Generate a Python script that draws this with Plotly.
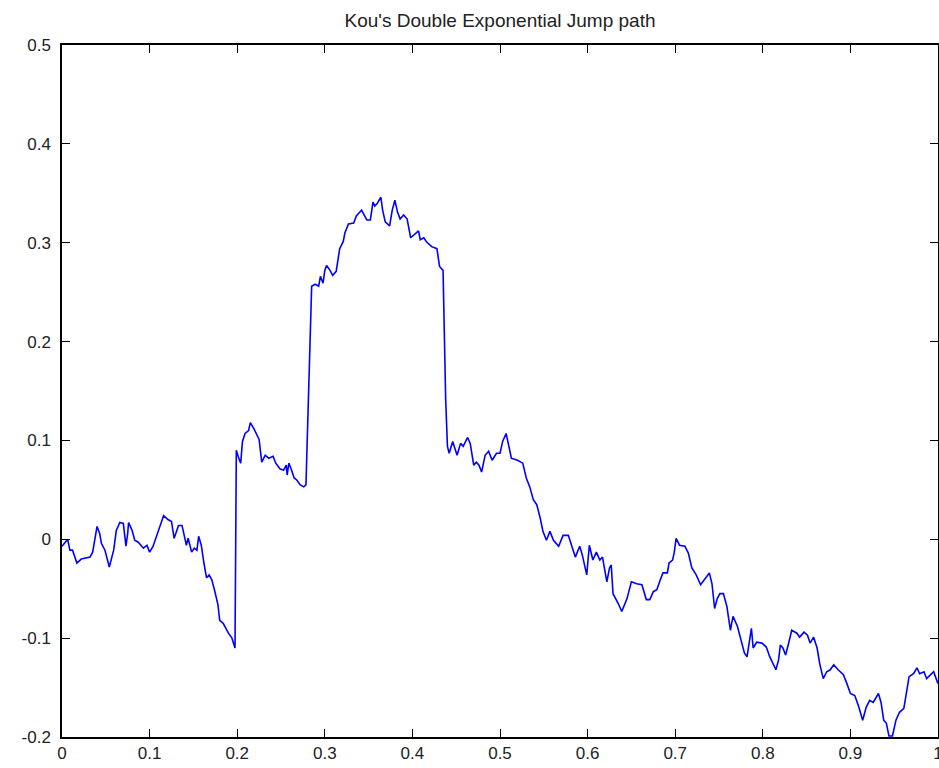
import plotly.graph_objects as go

title_text = "Kou's Double Exponential Jump path"

t_vals = [0.000, 0.003, 0.0065, 0.009, 0.012, 0.017, 0.022, 0.032, 0.035, 0.040, 0.043, 0.045, 0.049, 0.054, 0.059,
          0.062, 0.066, 0.070, 0.073, 0.075, 0.076, 0.080, 0.083, 0.087, 0.093, 0.097, 0.100, 0.104, 0.108, 0.112,
          0.116, 0.121, 0.125, 0.128, 0.133, 0.137, 0.140, 0.142, 0.144, 0.148, 0.151, 0.154, 0.156, 0.159, 0.162,
          0.165, 0.168, 0.171, 0.174, 0.178, 0.180, 0.184, 0.190, 0.194, 0.1975, 0.198, 0.199, 0.201, 0.204, 0.206,
          0.209, 0.213, 0.215, 0.219, 0.222, 0.225, 0.228, 0.232, 0.236, 0.241, 0.244, 0.249, 0.253, 0.256, 0.257,
          0.259, 0.262, 0.265, 0.268, 0.272, 0.276, 0.2785, 0.280, 0.283, 0.285, 0.289, 0.293, 0.295, 0.298, 0.300,
          0.302, 0.306, 0.309, 0.313, 0.315, 0.317, 0.321, 0.323, 0.327, 0.333, 0.336, 0.342, 0.345, 0.348, 0.352,
          0.355, 0.357, 0.360, 0.364, 0.366, 0.369, 0.374, 0.377, 0.380, 0.383, 0.386, 0.390, 0.394, 0.398, 0.402,
          0.407, 0.409, 0.413, 0.416, 0.422, 0.428, 0.431, 0.435, 0.436, 0.438, 0.440, 0.442, 0.446, 0.449, 0.451,
          0.455, 0.458, 0.463, 0.466, 0.470, 0.473, 0.476, 0.479, 0.483, 0.487, 0.491, 0.496, 0.500, 0.503, 0.507,
          0.509, 0.513, 0.520, 0.526, 0.530, 0.534, 0.538, 0.542, 0.546, 0.549, 0.553, 0.557, 0.561, 0.567, 0.572,
          0.578, 0.582, 0.586, 0.591, 0.594, 0.599, 0.602, 0.606, 0.610, 0.614, 0.617, 0.622, 0.625, 0.627, 0.629,
          0.635, 0.639, 0.645, 0.650, 0.656, 0.662, 0.667, 0.671, 0.675, 0.679, 0.683, 0.686, 0.691, 0.693, 0.697,
          0.699, 0.701, 0.705, 0.711, 0.715, 0.719, 0.724, 0.729, 0.734, 0.739, 0.742, 0.745, 0.748, 0.751, 0.755,
          0.759, 0.763, 0.766, 0.771, 0.775, 0.779, 0.782, 0.785, 0.787, 0.789, 0.793, 0.799, 0.804, 0.808, 0.812,
          0.815, 0.818, 0.820, 0.823, 0.826, 0.829, 0.833, 0.839, 0.842, 0.847, 0.851, 0.854, 0.858, 0.862, 0.865,
          0.869, 0.873, 0.877, 0.881, 0.886, 0.892, 0.896, 0.900, 0.905, 0.909, 0.914, 0.918, 0.922, 0.926, 0.932,
          0.935, 0.938, 0.941, 0.944, 0.948, 0.952, 0.956, 0.961, 0.964, 0.967, 0.972, 0.976, 0.979, 0.984, 0.987,
          0.992, 0.995, 1.000]

path_vals = [-0.007, -0.004, 0.000, -0.011, -0.011, -0.024, -0.020, -0.018, -0.013, 0.013, 0.006, -0.004, -0.011, -0.028, -0.011,
             0.009, 0.017, 0.016, -0.007, 0.006, 0.017, 0.009, -0.001, -0.003, -0.009, -0.006, -0.013, -0.007, 0.004, 0.014,
             0.024, 0.020, 0.018, 0.001, 0.014, 0.014, 0.003, -0.006, 0.001, -0.013, -0.009, -0.011, 0.003, -0.006, -0.024,
             -0.039, -0.036, -0.041, -0.051, -0.066, -0.082, -0.085, -0.095, -0.100, -0.110, -0.011, 0.090, 0.084, 0.077, 0.099,
             0.107, 0.110, 0.118, 0.112, 0.106, 0.101, 0.078, 0.085, 0.082, 0.084, 0.077, 0.071, 0.070, 0.075, 0.065,
             0.077, 0.070, 0.062, 0.060, 0.055, 0.053, 0.055, 0.102, 0.205, 0.256, 0.258, 0.256, 0.266, 0.259, 0.272,
             0.277, 0.272, 0.267, 0.271, 0.283, 0.294, 0.301, 0.310, 0.319, 0.320, 0.327, 0.333, 0.328, 0.323, 0.323,
             0.341, 0.337, 0.340, 0.346, 0.333, 0.321, 0.317, 0.333, 0.343, 0.331, 0.324, 0.328, 0.324, 0.305, 0.308,
             0.312, 0.303, 0.305, 0.301, 0.296, 0.294, 0.276, 0.272, 0.229, 0.141, 0.094, 0.087, 0.099, 0.090, 0.085,
             0.097, 0.094, 0.103, 0.097, 0.075, 0.078, 0.075, 0.068, 0.085, 0.089, 0.080, 0.087, 0.087, 0.099, 0.107,
             0.099, 0.082, 0.080, 0.077, 0.062, 0.053, 0.040, 0.035, 0.021, 0.008, -0.001, 0.008, -0.001, -0.007, 0.004,
             0.004, -0.007, -0.018, -0.007, -0.016, -0.036, -0.006, -0.021, -0.013, -0.021, -0.018, -0.043, -0.029, -0.026, -0.055,
             -0.065, -0.073, -0.060, -0.043, -0.045, -0.046, -0.061, -0.061, -0.053, -0.051, -0.041, -0.034, -0.034, -0.024, -0.021,
             -0.013, 0.001, -0.006, -0.007, -0.014, -0.029, -0.036, -0.046, -0.040, -0.034, -0.045, -0.070, -0.060, -0.055, -0.055,
             -0.068, -0.092, -0.078, -0.088, -0.102, -0.115, -0.119, -0.099, -0.090, -0.110, -0.104, -0.105, -0.109, -0.119, -0.127,
             -0.132, -0.122, -0.107, -0.110, -0.117, -0.107, -0.092, -0.095, -0.099, -0.094, -0.097, -0.105, -0.099, -0.110, -0.126,
             -0.141, -0.134, -0.132, -0.127, -0.132, -0.137, -0.146, -0.156, -0.158, -0.168, -0.183, -0.170, -0.163, -0.165, -0.156,
             -0.165, -0.183, -0.186, -0.199, -0.199, -0.183, -0.175, -0.171, -0.156, -0.139, -0.136, -0.130, -0.136, -0.134, -0.141,
             -0.136, -0.134, -0.146]

x_tickvals = [0, 0.1, 0.2, 0.3, 0.4, 0.5, 0.6, 0.7, 0.8, 0.9, 1.0]
x_ticktext = ["0", "0.1", "0.2", "0.3", "0.4", "0.5", "0.6", "0.7", "0.8", "0.9", "1"]
y_tickvals = [-0.2, -0.1, 0, 0.1, 0.2, 0.3, 0.4, 0.5]
y_ticktext = ["-0.2", "-0.1", "0", "0.1", "0.2", "0.3", "0.4", "0.5"]

FONT = "Liberation Sans, Arial, sans-serif"

fig = go.Figure()
fig.add_trace(go.Scatter(x=t_vals, y=path_vals, mode="lines",
                         line=dict(color="#0000ff", width=1.6), showlegend=False))

axis_common = dict(showline=True, linecolor="black", linewidth=1.5, mirror="ticks",
                   ticks="inside", ticklen=8, tickwidth=1.2, tickcolor="black",
                   showgrid=False, zeroline=False, automargin=False,
                   ticklabeloverflow="allow",
                   tickfont=dict(family=FONT, size=17, color="#222222"))

fig.update_layout(
    width=939, height=768,
    margin=dict(l=62, r=1, t=45, b=31),
    paper_bgcolor="white", plot_bgcolor="white",
    title=dict(text=title_text, x=0.5, xref="paper", y=1 - 20 / 768, yref="container",
               xanchor="center", yanchor="middle",
               font=dict(family=FONT, size=19, color="#222222")),
    xaxis=dict(range=[0, 1], tickvals=x_tickvals, ticktext=x_ticktext, **axis_common),
    yaxis=dict(range=[-0.2, 0.5], tickvals=y_tickvals, ticktext=y_ticktext,
               ticklabelstandoff=6, **axis_common),
)

fig.write_html("out.html", config={"displayModeBar": False},
               post_script="document.body.style.margin='0';document.body.style.overflow='hidden';")
